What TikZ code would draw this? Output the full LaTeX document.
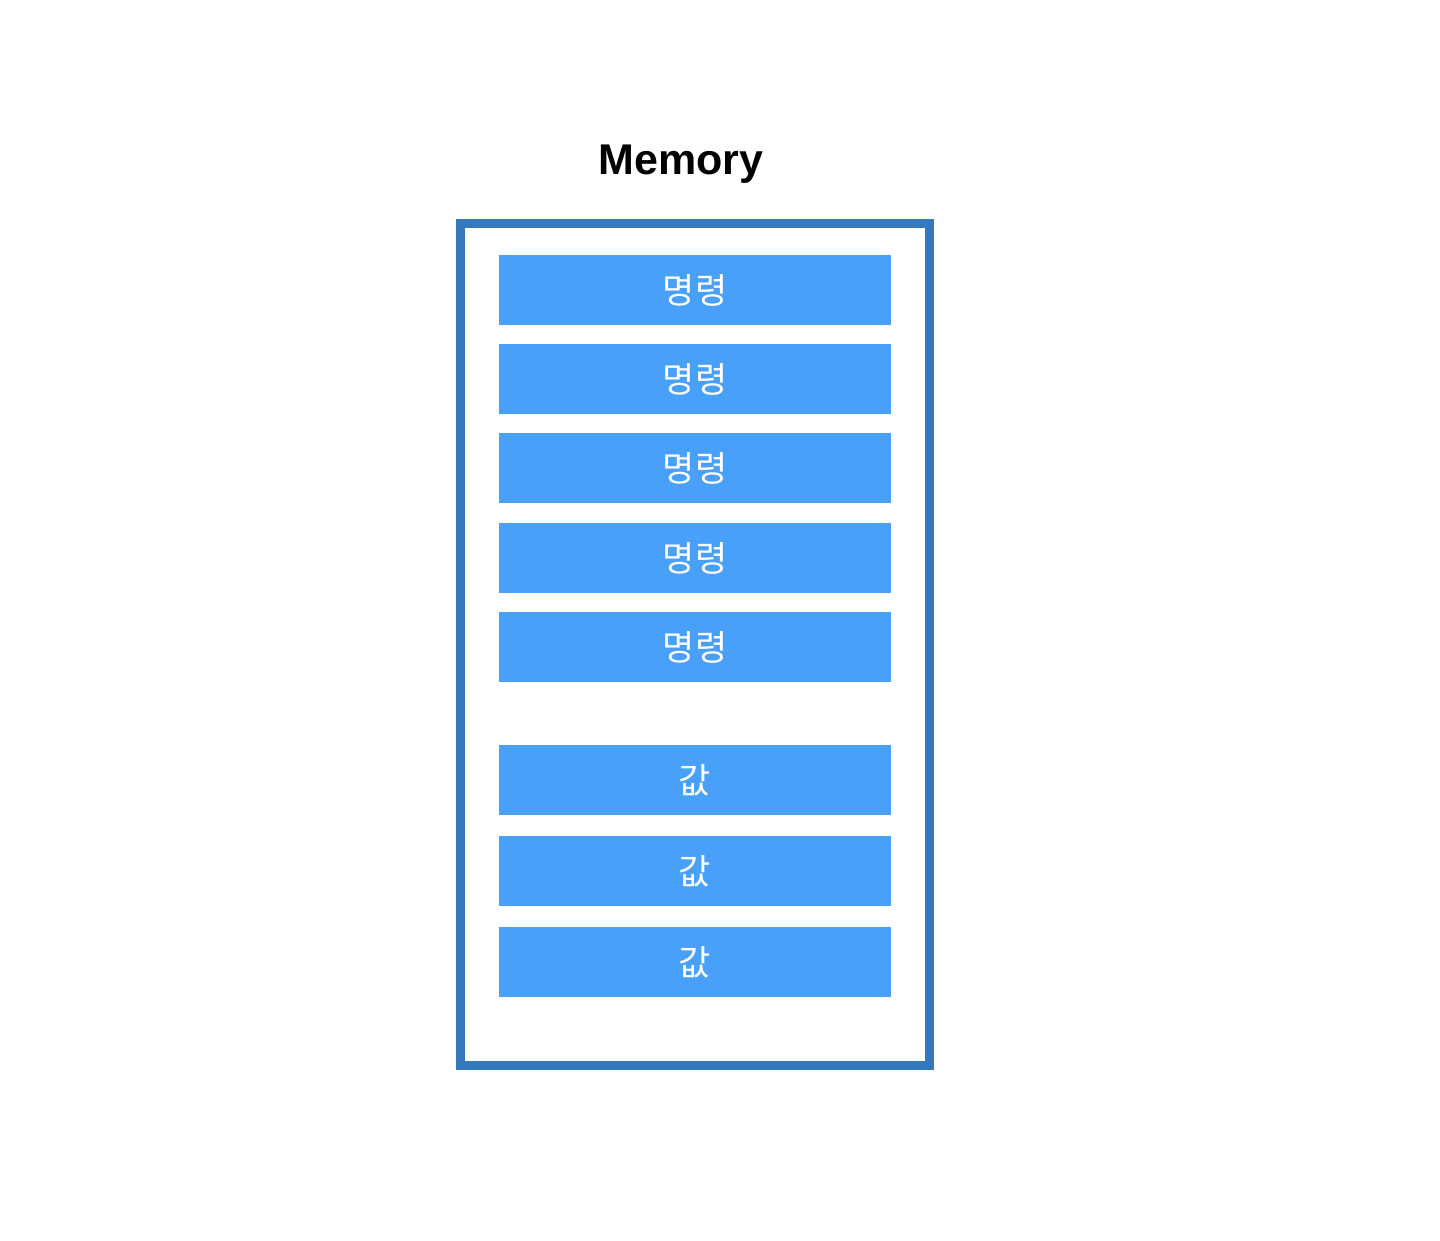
\documentclass[tikz,border=0pt]{standalone}
\usepackage{fontspec}
\setmainfont{Liberation Sans}
\newfontfamily\krfont{Noto Sans CJK KR}
\definecolor{frameblue}{RGB}{52,120,190}
\definecolor{cellblue}{RGB}{72,160,248}
\begin{document}
\begin{tikzpicture}[x=1pt,y=-1pt,
  cell/.style={fill=cellblue,draw=none,minimum width=392pt,minimum height=70pt,inner sep=0pt,
    text=white,font=\krfont\fontsize{35}{35}\selectfont},
  frame/.style={draw=frameblue,line width=9pt}]
\useasboundingbox (0,0) rectangle (1440,1240);
\node[font=\bfseries\fontsize{43}{43}\selectfont] (title) at (681,164) {Memory};
\node[frame,minimum width=469pt,minimum height=842pt,inner sep=0pt] (mem) at (695,644.5) {};
\node[cell] (c1) at (695,290) {명령};
\node[cell] (c2) at (695,379) {명령};
\node[cell] (c3) at (695,468) {명령};
\node[cell] (c4) at (695,558) {명령};
\node[cell] (c5) at (695,647) {명령};
\node[cell] (v1) at (695,780) {값};
\node[cell] (v2) at (695,871) {값};
\node[cell] (v3) at (695,962) {값};
\end{tikzpicture}
\end{document}
